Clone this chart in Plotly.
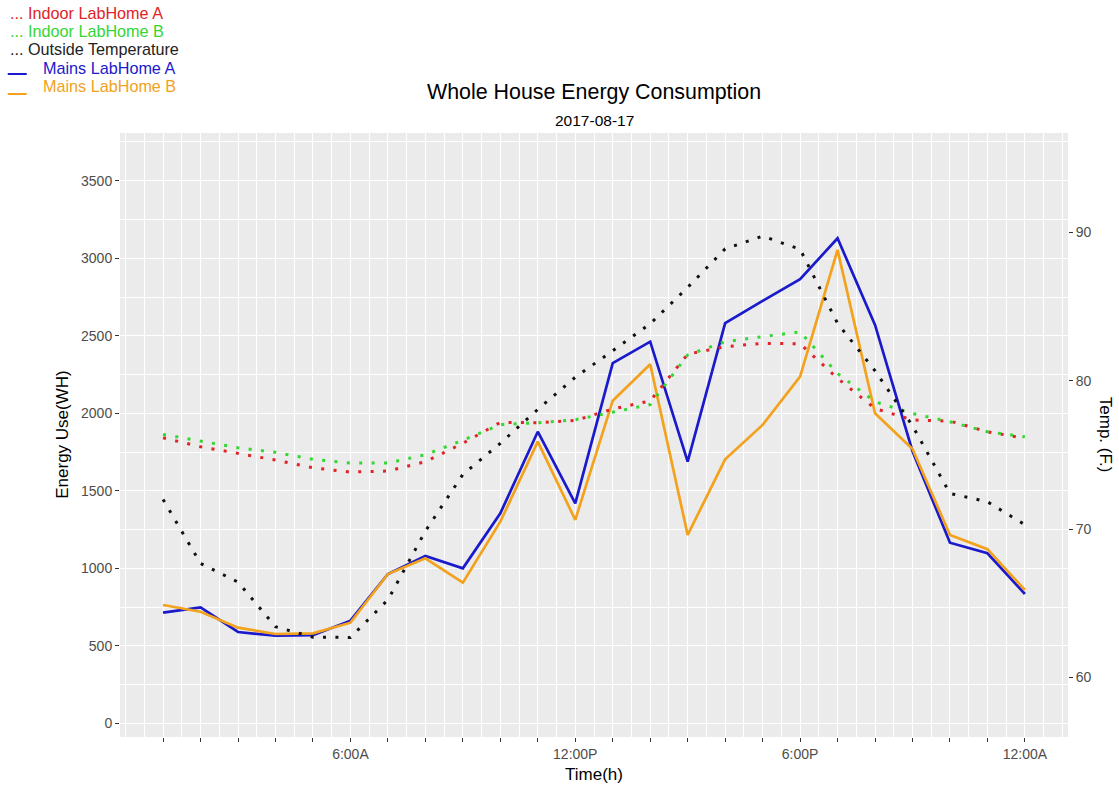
import plotly.graph_objects as go

# Hour of day (1 = 1:00 AM ... 24 = midnight)
hours = list(range(1, 25))

# Whole-house mains energy per hour (Wh)
mains_a = [714, 748, 589, 565, 568, 662, 963, 1079, 1000, 1355, 1881, 1419,
           2323, 2462, 1688, 2581, 2725, 2865, 3129, 2570, 1755, 1165, 1097, 834]
mains_b = [763, 720, 617, 576, 580, 649, 963, 1064, 907, 1301, 1817, 1312,
           2081, 2316, 1215, 1703, 1925, 2236, 3054, 2000, 1770, 1215, 1123, 860]

# Temperatures (deg F)
indoor_a = [76.16, 75.56, 75.11, 74.66, 74.14, 73.85, 73.92, 74.55, 75.79, 77.2, 77.18, 77.33,
            78.1, 78.65, 81.8, 82.3, 82.53, 82.5, 80.17, 78.14, 77.36, 77.29, 76.57, 76.12]
indoor_b = [76.39, 75.96, 75.49, 75.18, 74.71, 74.46, 74.46, 75.02, 76.0, 77.05, 77.18, 77.38,
            77.9, 78.4, 81.75, 82.64, 82.98, 83.3, 80.5, 78.59, 77.8, 77.24, 76.57, 76.23]
outside = [72.0, 67.69, 66.43, 63.42, 62.72, 62.7, 65.24, 69.87, 73.69, 75.79, 78.08, 80.24,
           82.03, 83.85, 86.3, 88.9, 89.76, 88.87, 83.88, 80.68, 76.97, 72.41, 71.85, 70.3]

# Axis tick labels
x_labels = {6: "6:00A", 12: "12:00P", 18: "6:00P", 24: "12:00A"}
x_ticktext = [x_labels.get(h, "") for h in hours]
energy_ticks = [0, 500, 1000, 1500, 2000, 2500, 3000, 3500]
temp_ticks = [60, 70, 80, 90]

RED = "#e02326"
GREEN = "#33d633"
BLACK = "#111111"
BLUE = "#1a1acc"
ORANGE = "#f2a21c"
FONT = "Liberation Sans, Arial, sans-serif"
DOT = "3px,9.4px"

fig = go.Figure()

fig.add_trace(go.Scatter(x=hours, y=mains_a, mode="lines", name="Mains LabHome A",
                         line=dict(color=BLUE, width=2.7)))
fig.add_trace(go.Scatter(x=hours, y=mains_b, mode="lines", name="Mains LabHome B",
                         line=dict(color=ORANGE, width=2.7)))
fig.add_trace(go.Scatter(x=hours, y=indoor_a, mode="lines", name="Indoor LabHome A", yaxis="y2",
                         line=dict(color=RED, width=3, dash=DOT)))
fig.add_trace(go.Scatter(x=hours, y=indoor_b, mode="lines", name="Indoor LabHome B", yaxis="y2",
                         line=dict(color=GREEN, width=3, dash=DOT)))
fig.add_trace(go.Scatter(x=hours, y=outside, mode="lines", name="Outside Temperature", yaxis="y2",
                         line=dict(color=BLACK, width=3, dash=DOT)))

# plot-area geometry in pixels
L, R, T, B = 120.2, 1067.8, 133.0, 737.0
W, H = R - L, B - T


def px(xp):
    return (xp - L) / W


def py(yp):
    return (B - yp) / H


annotations = [
    dict(text="Whole House Energy Consumption", x=0.5, y=py(92), font=dict(size=21.4, color="black")),
    dict(text="2017-08-17", x=0.5, y=py(121), font=dict(size=15.5, color="black")),
    dict(text="Time(h)", x=0.5, y=py(774), font=dict(size=17, color="black")),
    dict(text="Energy Use(WH)", x=px(62), y=0.5, textangle=-90, font=dict(size=17, color="black")),
    dict(text="Temp. (F.)", x=px(1106), y=0.5, textangle=90, font=dict(size=17, color="black")),
    dict(text="... Indoor LabHome A", x=px(8), y=py(12.7), xanchor="left", font=dict(size=16.2, color=RED)),
    dict(text="... Indoor LabHome B", x=px(8), y=py(30.7), xanchor="left", font=dict(size=16.2, color=GREEN)),
    dict(text="... Outside Temperature", x=px(8), y=py(49.3), xanchor="left", font=dict(size=16.2, color="#222222")),
    dict(text="Mains LabHome A", x=px(41), y=py(68.3), xanchor="left", font=dict(size=16.2, color=BLUE)),
    dict(text="Mains LabHome B", x=px(41), y=py(86.5), xanchor="left", font=dict(size=16.2, color=ORANGE)),
]
for a in annotations:
    a.update(xref="paper", yref="paper", showarrow=False)
    a.setdefault("xanchor", "center")
    a.setdefault("yanchor", "middle")

shapes = [
    dict(type="line", xref="paper", yref="paper", x0=px(8), x1=px(27), y0=py(74), y1=py(74),
         line=dict(color=BLUE, width=2)),
    dict(type="line", xref="paper", yref="paper", x0=px(8), x1=px(27), y0=py(94), y1=py(94),
         line=dict(color=ORANGE, width=2)),
]

tickfont = dict(size=14, color="#4d4d4d", family=FONT)

fig.update_layout(
    width=1119, height=788,
    margin=dict(l=L, r=1119 - R, t=T, b=788 - B),
    paper_bgcolor="white",
    plot_bgcolor="#ebebeb",
    font=dict(family=FONT),
    showlegend=False,
    annotations=annotations,
    shapes=shapes,
    xaxis=dict(
        range=[-0.15, 25.15], tickmode="array", tickvals=hours, ticktext=x_ticktext,
        ticks="outside", ticklen=4, tickwidth=1, tickcolor="#333333", tickfont=tickfont,
        showgrid=True, gridcolor="white", gridwidth=1.3, zeroline=False, showline=False,
        minor=dict(tick0=0, dtick=0.5, showgrid=True, gridcolor="white", gridwidth=0.6),
    ),
    yaxis=dict(
        range=[-88.4, 3808], tickmode="array", tickvals=energy_ticks,
        ticks="outside", ticklen=4, tickwidth=1, tickcolor="#333333", tickfont=tickfont,
        showgrid=True, gridcolor="white", gridwidth=1.3, zeroline=False, showline=False,
        minor=dict(tick0=0, dtick=250, showgrid=True, gridcolor="white", gridwidth=0.6),
    ),
    yaxis2=dict(
        overlaying="y", side="right", range=[55.99, 96.71], tickmode="array", tickvals=temp_ticks,
        ticks="outside", ticklen=4, tickwidth=1, tickcolor="#333333", tickfont=tickfont,
        showgrid=False, zeroline=False, showline=False,
    ),
)

fig.write_html("out.html")
